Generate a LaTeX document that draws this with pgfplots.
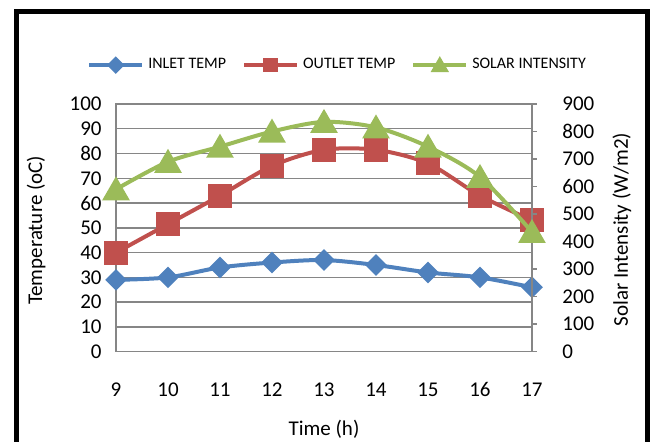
\documentclass[border=0pt]{standalone}
\usepackage{pgfplots}
\pgfplotsset{compat=1.18}
\usepackage{fontspec}
\setmainfont{Carlito}
\definecolor{cblue}{HTML}{4F81BD}
\definecolor{cred}{HTML}{C0504D}
\definecolor{cgreen}{HTML}{9BBB59}
\definecolor{cgrid}{HTML}{868686}
\begin{document}
\begin{tikzpicture}
\useasboundingbox (0,0) rectangle (330.5pt,220.5pt);
\pgfplotsset{
  base/.style={scale only axis, width=208pt, height=123.85pt, at={(58pt,44.65pt)}, anchor=south west,
    xmin=9, xmax=17, xtick={9,...,17},
    /pgf/number format/assume math mode=true,
    tick label style={font=\fontsize{10.5}{12}\selectfont},
    label style={font=\fontsize{10.5}{12}\selectfont},
    axis line style={cgrid, line width=0.7pt},
    every tick/.style={cgrid, line width=0.7pt},
  },
  inlet/.style={cblue, line width=2pt, smooth, mark=square*, mark size=2.83pt, mark options={rotate=45, draw=none, fill=cblue}},
  outlet/.style={cred, line width=2pt, smooth, mark=square*, mark size=5pt, mark options={draw=none, fill=cred}},
  solar/.style={cgreen, line width=2pt, smooth, mark=triangle*, mark size=6pt, mark options={yshift=-1.5pt, draw=none, fill=cgreen}},
}
\begin{axis}[base, ymin=0, ymax=100, ytick={0,10,...,100},
  ymajorgrids, grid style={cgrid, line width=0.7pt},
  xtick style={draw=none}, ytick style={draw=none},
  xticklabel style={anchor=center, inner sep=0pt, yshift=-19pt},
  yticklabel style={anchor=east, inner sep=0pt, xshift=-7pt},
  xlabel={Time (h)}, xlabel style={at={(axis description cs:0.5,-0.315)}, anchor=center},
  ylabel={Temperature (oC)}, ylabel style={at={(axis description cs:-0.192,0.49)}, anchor=center},
]
\addplot[inlet] coordinates {(9,29) (10,30) (11,34) (12,36) (13,37) (14,35) (15,32) (16,30) (17,26)};
\addplot[outlet] coordinates {(9,40) (10,51.5) (11,63) (12,75) (13,81.5) (14,81.5) (15,76) (16,63) (17,53)};
\end{axis}
\begin{axis}[base, axis y line*=right, axis x line=none, ymin=0, ymax=900, ytick={0,100,...,900},
  tick align=outside, major tick length=2.5pt,
  yticklabel style={anchor=west, inner sep=0pt, xshift=12.5pt},
  ylabel={Solar Intensity (W/m2)}, ylabel style={at={(axis description cs:1.2163,0.493)}, anchor=center},
  legend style={at={(axis description cs:0.535,1.157)}, anchor=center, draw=none, fill=none,
    legend columns=3, font=\fontsize{8}{9.6}\selectfont,
    /tikz/every even column/.append style={column sep=6pt}},
  legend cell align=left,
  legend image code/.code={\draw[mark repeat=2, mark phase=2, #1] plot coordinates {(0pt,0pt)(13.25pt,0pt)(26.5pt,0pt)};},
]
\addlegendimage{cblue, line width=2pt, mark=square*, mark size=2.12pt, mark options={rotate=45, draw=none, fill=cblue}}
\addlegendentry{INLET TEMP}
\addlegendimage{cred, line width=2pt, mark=square*, mark size=2.6pt, mark options={draw=none, fill=cred}}
\addlegendentry{OUTLET TEMP}
\addlegendimage{cgreen, line width=2pt, mark=triangle*, mark size=3.3pt, mark options={yshift=-0.8pt, draw=none, fill=cgreen}}
\addlegendentry{SOLAR INTENSITY}
\addplot[solar, forget plot] coordinates {(9,590) (10,690) (11,745) (12,800) (13,835) (14,815) (15,745) (16,635) (17,435)};
\end{axis}
\draw[line width=2.25pt] (8.25pt,-5pt) -- (8.25pt,214.85pt) -- (323.75pt,214.85pt) -- (323.75pt,-5pt);
\end{tikzpicture}
\end{document}
